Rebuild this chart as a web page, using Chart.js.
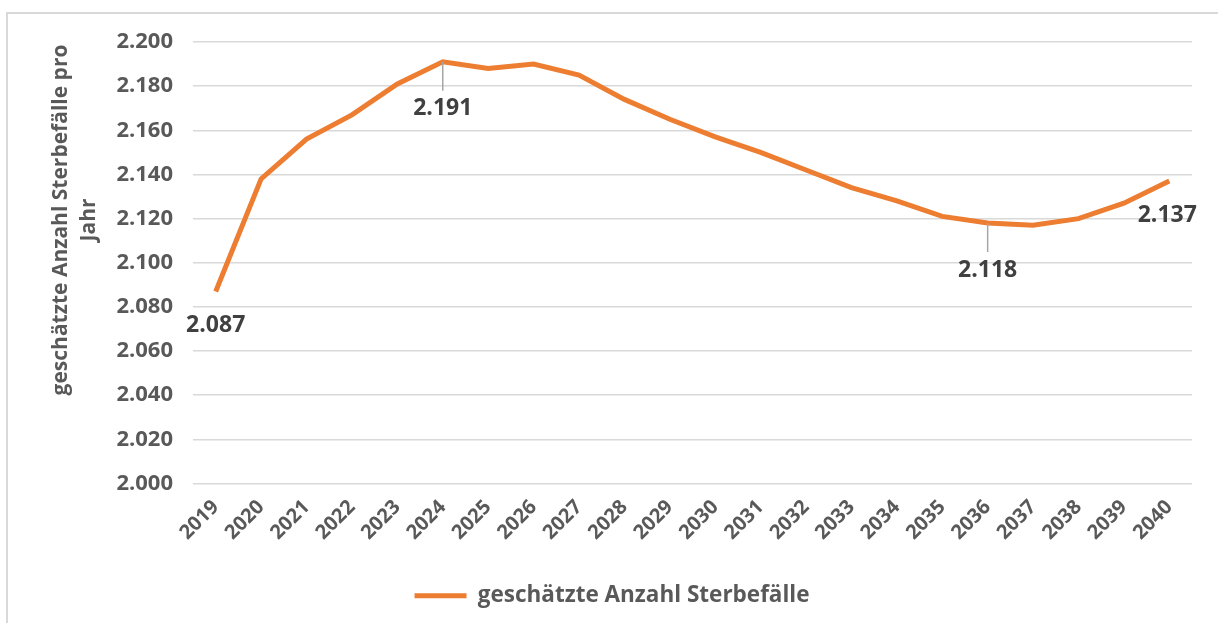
<!DOCTYPE html>
<html>
<head>
<meta charset="utf-8">
<script src="https://cdn.jsdelivr.net/npm/chart.js@4.4.1/dist/chart.umd.min.js"></script>
<style>
  body { margin: 0; background: #fff; }
  #frame { position: absolute; left: 6px; top: 12px; width: 1220px; height: 620px; border: 2px solid #d9d9d9; }
  #wrap { position: absolute; left: 0; top: 0; width: 1218px; height: 623px; }
</style>
</head>
<body>
<div id="frame"></div>
<div id="wrap"><canvas id="myChart" width="1218" height="623"></canvas></div>
<script>
const years = ["2019","2020","2021","2022","2023","2024","2025","2026","2027","2028","2029",
  "2030","2031","2032","2033","2034","2035","2036","2037","2038","2039","2040"];
const deaths = [2087, 2138, 2156, 2167, 2181, 2191, 2188, 2190, 2185, 2174, 2165,
  2157, 2150, 2142, 2134, 2128, 2121, 2118, 2117, 2120, 2127, 2137];
// which points get a value label (index into years)
const labelled = [0, 5, 17, 21];
const yMin = 2000, yMax = 2200, yStep = 20;

const seriesName = "geschätzte Anzahl Sterbefälle";
const axisTitle = ["geschätzte Anzahl Sterbefälle pro", "Jahr"];

const fmt = (v) => v.toLocaleString("de-DE");

const FONT = "'Open Sans', 'Noto Sans', sans-serif";
const grey = "#595959";

// value labels below the points, leader line for the ones inside the curve
const valueLabels = {
  id: "valueLabels",
  afterDatasetsDraw(chart) {
    const ctx = chart.ctx;
    const meta = chart.getDatasetMeta(0);
    ctx.save();
    ctx.font = "bold 23px " + FONT;
    ctx.fillStyle = "#404040";
    ctx.textAlign = "center";
    ctx.textBaseline = "middle";
    labelled.forEach((i) => {
      const p = meta.data[i];
      let x = p.x, y = p.y;
      if (i === 0 || i === years.length - 1) {
        ctx.fillText(fmt(deaths[i]), i === 0 ? x : x - 2, y + 34);
      } else {
        ctx.strokeStyle = "#a6a6a6";
        ctx.lineWidth = 1.5;
        ctx.beginPath();
        ctx.moveTo(x, y);
        ctx.lineTo(x, y + 29);
        ctx.stroke();
        ctx.fillText(fmt(deaths[i]), x, y + 47);
      }
    });
    ctx.restore();
  }
};

// y axis title, two lines rotated, placed like the excel one
const yTitle = {
  id: "yTitle",
  afterDraw(chart) {
    const ctx = chart.ctx;
    ctx.save();
    ctx.font = "bold 21px " + FONT;
    ctx.fillStyle = grey;
    ctx.textAlign = "center";
    ctx.textBaseline = "middle";
    ctx.translate(61, 220);
    ctx.rotate(-Math.PI / 2);
    ctx.fillText(axisTitle[0], 0, 0);
    ctx.fillText(axisTitle[1], 0, 28);
    ctx.restore();
  }
};

const data = {
  labels: years,
  datasets: [{
    label: seriesName,
    data: deaths,
    borderColor: "#ED7D31",
    backgroundColor: "#ED7D31",
    borderWidth: 5,
    pointRadius: 0,
    tension: 0,
  }]
};

const config = {
  type: "line",
  data: data,
  plugins: [valueLabels, yTitle],
  options: {
    responsive: false,
    animation: false,
    layout: { padding: { top: 42, right: 26, left: 32, bottom: 6 } },
    plugins: {
      tooltip: { enabled: false },
      legend: {
        position: "bottom",
        labels: {
          usePointStyle: true,
          pointStyle: "line",
          pointStyleWidth: 52,
          color: grey,
          font: { family: FONT, size: 22.5, weight: "bold" },
          padding: 10,
        }
      }
    },
    scales: {
      x: {
        offset: true,
        grid: { display: false },
        border: { display: false },
        ticks: {
          color: grey,
          font: { family: FONT, size: 20, weight: "bold" },
          maxRotation: 45,
          minRotation: 45,
          autoSkip: false,
          padding: 4,
        },
        afterFit: (s) => { s.height = 91; }
      },
      y: {
        min: yMin,
        max: yMax,
        border: { display: false },
        grid: { color: "#d9d9d9", lineWidth: 1.5, drawTicks: false },
        ticks: {
          stepSize: yStep,
          color: grey,
          padding: 20,
          font: { family: FONT, size: 22, weight: "bold" },
          callback: (v) => fmt(v),
        },
        afterFit: (s) => { s.width = 161; }
      }
    }
  }
};

var myChart = new Chart(document.getElementById("myChart"), config);
</script>
</body>
</html>
